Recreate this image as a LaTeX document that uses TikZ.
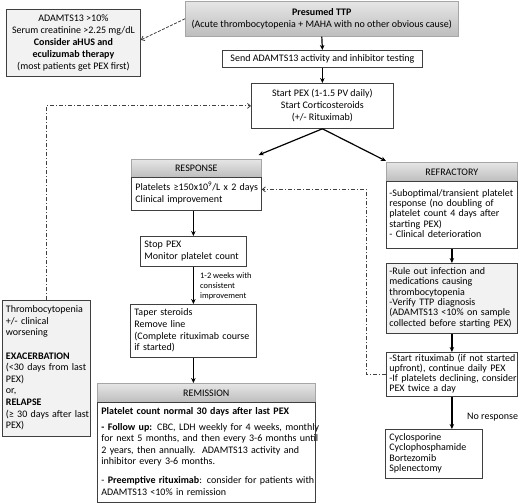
\documentclass[tikz,border=0pt]{standalone}
\usepackage{fontspec}
\setmainfont{Carlito}
\usetikzlibrary{arrows.meta,calc}
\definecolor{boxline}{HTML}{3F3F3F}
\definecolor{lightfill}{HTML}{F2F2F2}
\definecolor{hdrtop}{HTML}{E6E6E6}
\definecolor{hdrbot}{HTML}{BDBDBD}
\definecolor{hdrline}{HTML}{A6A6A6}
\definecolor{ddcol}{HTML}{404040}
\newcommand{\fs}{\fontsize{10}{11.6}\selectfont}
\newcommand{\fsr}{\fontsize{10}{10.2}\selectfont}
\newcommand{\fsmall}{\fontsize{8.4}{10}\selectfont}
\newcommand{\tl}[1]{\begin{tabular}{@{}l@{}}#1\end{tabular}}
\tikzset{
  box/.style={draw=boxline, line width=0.8pt, fill=white, inner xsep=4pt, inner ysep=1pt, font=\fs, anchor=north west},
  graybox/.style={box, fill=lightfill},
  hdr/.style={draw=hdrline, line width=0.6pt, top color=hdrtop, bottom color=hdrbot, font=\fs, anchor=north west, inner sep=0pt},
  arr/.style={-{Stealth[length=5pt,width=4.5pt]}, line width=1.2pt, draw=black},
  dasharr/.style={-{Straight Barb[length=3pt,width=5pt]}, line width=0.8pt, dash pattern=on 3pt off 1.5pt, draw=ddcol},
  dd/.style={line width=0.8pt, dash pattern=on 4pt off 2pt on 1pt off 2pt, draw=ddcol},
  ddarr/.style={dd, -{Straight Barb[length=3pt,width=5pt]}},
  lbl/.style={font=\fsmall, align=left, anchor=north west, inner sep=0pt}
}
\begin{document}
\begin{tikzpicture}[x=1pt,y=-1pt]
\useasboundingbox (0,0) rectangle (520,503);

% top-left box
\node[graybox, minimum width=134pt, minimum height=67pt, align=center, font=\fontsize{10}{11.9}\selectfont] (A) at (6,9)
  {ADAMTS13 >10\%\\Serum creatinine >2.25 mg/dL\\\textbf{Consider aHUS and}\\\textbf{eculizumab therapy}\\(most patients get PEX first)};

% presumed TTP
\node[hdr, minimum width=273pt, minimum height=35pt, align=center] (B) at (185,1)
  {\textbf{Presumed TTP}\\(Acute thrombocytopenia + MAHA with no other obvious cause)};

\node[box, minimum width=200pt, minimum height=17pt, inner ysep=0pt] (C) at (222,50)
  {Send ADAMTS13 activity and inhibitor testing};

\node[box, minimum width=142pt, minimum height=45pt, align=center, font=\fontsize{10}{12}\selectfont] (D) at (251,83)
  {Start PEX (1-1.5 PV daily)\\Start Corticosteroids\\(+/- Rituximab)};

% response column
\node[hdr, minimum width=130pt, minimum height=18pt] (RH) at (131,159) {RESPONSE};
\node[box, text width=122pt, minimum height=33pt] (RB) at (131,177)
  {\tl{Platelets ≥150x10\textsuperscript{9}/L x 2 days\\Clinical improvement}};

\node[box, text width=98pt, minimum height=30pt] (E) at (140,236)
  {\tl{Stop PEX\\Monitor platelet count}};

\node[box, text width=118pt, minimum height=53pt] (F) at (130,304)
  {\tl{Taper steroids\\Remove line\\(Complete rituximab course\\if started)}};

\node[lbl] (L1) at (200,272) {1-2 weeks with\\consistent\\improvement};

% remission
\node[hdr, minimum width=218pt, minimum height=19pt] (MH) at (97,383) {REMISSION};
\node[box, text width=210pt, minimum height=100pt] (MB) at (97,402)
  {\tl{\textbf{Platelet count normal 30 days after last PEX}\\[4pt]
   \textbf{- Follow up:} CBC, LDH weekly for 4 weeks, monthly\\
   for next 5 months, and then every 3-6 months until\\
   2 years, then annually.\ \ ADAMTS13 activity and\\
   inhibitor every 3-6 months.\\[7pt]
   - \textbf{Preemptive rituximab}: consider for patients with\\
   ADAMTS13 <10\% in remission}};

% thrombocytopenia box
\node[graybox, text width=81pt, minimum height=136pt, inner xsep=3.5pt] (T) at (2,300)
  {\tl{Thrombocytopenia\\+/- clinical\\worsening\\ \\\textbf{EXACERBATION}\\(<30 days from last\\PEX)\\or,\\\textbf{RELAPSE}\\(≥ 30 days after last\\PEX)}};

% refractory column
\node[hdr, minimum width=131pt, minimum height=19pt] (FH) at (386,162) {REFRACTORY};
\node[box, text width=125pt, minimum height=67pt, font=\fsr, inner xsep=3pt] (FB) at (386,181)
  {\tl{-Suboptimal/transient platelet\\response (no doubling of\\platelet count 4 days after\\starting PEX)\\- Clinical deterioration}};

\node[graybox, text width=125pt, minimum height=70pt, font=\fsr, inner xsep=3pt] (G) at (386,263)
  {\tl{-Rule out infection and\\medications causing\\thrombocytopenia\\-Verify TTP diagnosis\\(ADAMTS13 <10\% on sample\\collected before starting PEX)}};

\node[box, text width=125pt, minimum height=44pt, font=\fsr, inner xsep=3pt] (H) at (386,352)
  {\tl{-Start rituximab (if not started\\upfront), continue daily PEX\\-If platelets declining, consider\\PEX twice a day}};

\node[box, text width=89pt, minimum height=49pt, font=\fsr, inner xsep=4pt] (I) at (385,429)
  {\tl{Cyclosporine\\Cyclophosphamide\\Bortezomib\\Splenectomy}};

\node[font=\fs, anchor=west, inner sep=0pt] (NR) at (467,417) {No response};

\coordinate (ddx) at (366,0);
\coordinate (rbin) at ([yshift=4.5pt]RB.east);

% connectors
\draw[arr] (B.south) -- (C.north);
\draw[arr] (C.south) -- (D.north);
\draw[arr] (D.south) -- ([xshift=-3pt,yshift=4pt]RH.north east);
\draw[arr] (D.south) -- ([yshift=1pt]FH.north west);
\draw[arr] (E.north |- RB.south) -- (E.north);
\draw[arr] (E.south) -- (E.south |- F.north);
\draw[arr] (F.south) -- (F.south |- MH.north);
\draw[arr] (FB.south) -- (FB.south |- G.north);
\draw[arr] (G.south) -- (G.south |- H.north);
\draw[arr] (H.south) -- (H.south |- I.north);

\draw[dasharr] (B.west) -- ([yshift=3pt]A.east);
\draw[ddarr] (T.north) -- (T.north |- D.west) -- (D.west);
\draw[ddarr] (H.west) -- (H.west -| ddx) -- (ddx |- rbin) -- (rbin);
\end{tikzpicture}
\end{document}
